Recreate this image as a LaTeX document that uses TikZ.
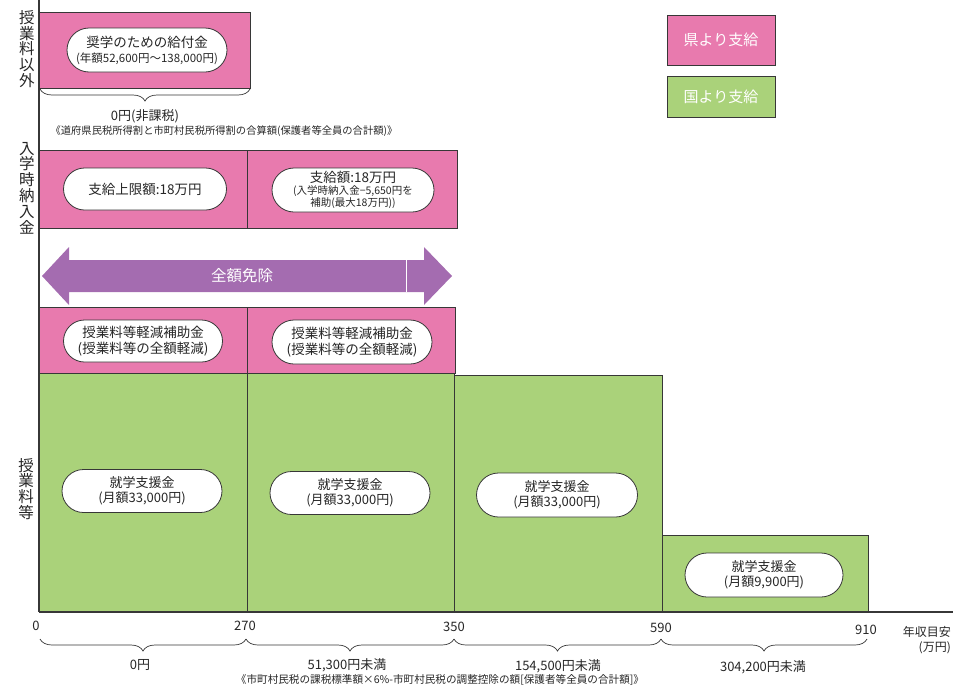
\documentclass[tikz,border=0pt]{standalone}
\usepackage{fontspec}
\setmainfont{Noto Sans CJK JP}
\usetikzlibrary{shapes.misc,decorations.pathreplacing}
\definecolor{pk}{RGB}{232,122,174}
\definecolor{gr}{RGB}{170,210,122}
\definecolor{pu}{RGB}{164,108,176}
\definecolor{ln}{RGB}{55,55,55}
\begin{document}
\begin{tikzpicture}[x=1pt,y=-1pt,
  box/.style={draw=ln, line width=0.8pt, anchor=north west, inner sep=0pt},
  pinkbox/.style={box, fill=pk},
  greenbox/.style={box, fill=gr},
  pill/.style={rounded rectangle, draw=ln, line width=0.8pt, fill=white, align=center, inner sep=0pt, text=black!85, font=\fontsize{13}{15.5}\selectfont},
  legendbox/.style={draw=ln, line width=0.8pt, inner sep=0pt, minimum width=108pt, text=white, font=\fontsize{15}{16}\selectfont},
  vlabel/.style={align=center, font=\fontsize{15.5}{15.8}\selectfont, inner sep=0pt, text=black!85},
  brc/.style={draw=ln, line width=0.7pt, decorate, decoration={brace, mirror, amplitude=12pt}},
  tick/.style={font=\fontsize{13}{14}\selectfont, inner sep=0pt, text=black!85},
  lbl/.style={font=\fontsize{13}{14}\selectfont, inner sep=0pt, text=black!85},
  note/.style={font=\fontsize{10.3}{11}\selectfont, inner sep=0pt, text=black!85},
  axisline/.style={draw=ln, line width=1.2pt}
]
\useasboundingbox (0,0) rectangle (964,691);

% legend
\node[legendbox, fill=pk, minimum height=50pt] (legP) at (721,40) {県より支給};
\node[legendbox, fill=gr, minimum height=41pt] (legG) at (721,97) {国より支給};

% green boxes
\node[greenbox, minimum width=208pt, minimum height=239pt] (g1) at (39,373) {};
\node[greenbox, minimum width=207pt, minimum height=239pt] (g2) at (247,373) {};
\node[greenbox, minimum width=208pt, minimum height=237pt] (g3) at (454,375) {};
\node[greenbox, minimum width=206pt, minimum height=77pt] (g4) at (662,535) {};

% pink boxes
\node[pinkbox, minimum width=208pt, minimum height=66pt] (r31) at (39,307) {};
\node[pinkbox, minimum width=208pt, minimum height=66pt] (r32) at (247,307) {};
\node[pinkbox, minimum width=208pt, minimum height=78pt] (r21) at (39,150) {};
\node[pinkbox, minimum width=210pt, minimum height=78pt] (r22) at (247,150) {};
\node[pinkbox, minimum width=211pt, minimum height=76pt] (r1) at (39,12) {};

% arrow
\fill[pu] (42,276) -- (69,247) -- (69,260) -- (424,260) -- (424,247) -- (452,276)
  -- (424,305) -- (424,292) -- (69,292) -- (69,305) -- cycle;
\draw[white, line width=1pt] (406,260) -- (406,292);
\node[text=white, font=\fontsize{15.5}{16}\selectfont, inner sep=0pt] (arrtxt) at (242,276) {全額免除};

% axes
\draw[axisline] (39,0) -- (39,612);
\draw[axisline] (39,612) -- (953,612);

% left labels
\node[vlabel] (lab1) at (27,49) {授\\業\\料\\以\\外};
\node[vlabel] (lab2) at (27,188) {入\\学\\時\\納\\入\\金};
\node[vlabel] (lab3) at (26,489) {授\\業\\料\\等};

% pills
\node[pill, minimum width=160pt, minimum height=44pt, font=\fontsize{13.5}{15}\selectfont] (p1) at (147,50)
  {奨学のための給付金\\\fontsize{11.5}{15}\selectfont (年額52,600円～138,000円)};
\node[pill, minimum width=163pt, minimum height=42pt, font=\fontsize{13.5}{15}\selectfont] (p21) at (145,189)
  {支給上限額:18万円};
\node[pill, minimum width=162pt, minimum height=44pt, font=\fontsize{10.5}{10.5}\selectfont] (p22) at (353,190)
  {\fontsize{13.5}{14}\selectfont 支給額:18万円\\[1pt]\fontsize{10.5}{10.5}\selectfont (入学時納入金−5,650円を\\補助(最大18万円))};
\node[pill, minimum width=159pt, minimum height=42pt, font=\fontsize{13.5}{15.5}\selectfont] (p31) at (143,341)
  {授業料等軽減補助金\\(授業料等の全額軽減)};
\node[pill, minimum width=160pt, minimum height=44pt, font=\fontsize{13.5}{15.5}\selectfont] (p32) at (352,342)
  {授業料等軽減補助金\\(授業料等の全額軽減)};
\node[pill, minimum width=160pt, minimum height=43pt] (pg1) at (142,491)
  {就学支援金\\(月額33,000円)};
\node[pill, minimum width=160pt, minimum height=43pt] (pg2) at (350,493)
  {就学支援金\\(月額33,000円)};
\node[pill, minimum width=161pt, minimum height=44pt] (pg3) at (557,495)
  {就学支援金\\(月額33,000円)};
\node[pill, minimum width=158pt, minimum height=44pt] (pg4) at (764,575)
  {就学支援金\\(月額9,900円)};

% top brace and notes
\coordinate (tb1) at (40,89);
\coordinate (tb2) at (250,89);
\draw[brc] (tb1) -- (tb2);
\node[lbl] (t0) at (145,116) {0円(非課税)};
\node[note] (tnote) at (224,131) {《道府県民税所得割と市町村民税所得割の合算額(保護者等全員の合計額)》};

% ticks
\node[tick] (x0) at (36,626) {0};
\node[tick] (x270) at (245,626) {270};
\node[tick] (x350) at (454,627) {350};
\node[tick] (x590) at (661,628) {590};
\node[tick] (x910) at (866,630) {910};
\node[font=\fontsize{12}{15}\selectfont, align=right, anchor=east, inner sep=0pt, text=black!85] (unit) at (951,640) {年収目安\\(万円)};

% bottom braces
\coordinate (b0) at (40,639);
\coordinate (b1) at (246,639);
\coordinate (b2) at (454,639);
\coordinate (b3) at (661,639);
\coordinate (b4) at (867,639);
\draw[brc] (b0) -- (b1);
\draw[brc] (b1) -- (b2);
\draw[brc] (b2) -- (b3);
\draw[brc] (b3) -- (b4);
\node[lbl] (l0) at (140,665) {0円};
\node[lbl] (l1) at (347,665) {51,300円未満};
\node[lbl] (l2) at (558,666) {154,500円未満};
\node[lbl] (l3) at (763,667) {304,200円未満};
\node[note, font=\fontsize{10.6}{11}\selectfont] (bnote) at (440,680) {《市町村民税の課税標準額×6\%-市町村民税の調整控除の額[保護者等全員の合計額]》};
\end{tikzpicture}
\end{document}
